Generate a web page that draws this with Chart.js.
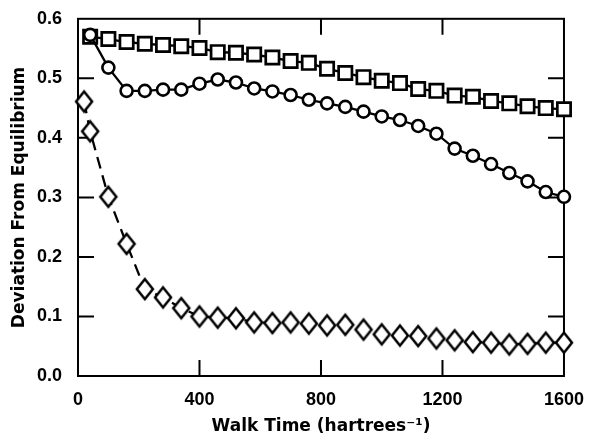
<!DOCTYPE html>
<html>
<head>
<meta charset="utf-8">
<script src="https://cdn.jsdelivr.net/npm/chart.js@4"></script>
<style>
    body { margin: 0; background: #fff; }
    #wrap { width: 589px; height: 438px; position: relative; }
</style>
</head>
<body>
<div id="wrap"><canvas id="grafica"></canvas></div>
<script>
// Datos
const walkTimes = [40, 100, 160, 220, 280, 340, 400, 460, 520, 580, 640, 700, 760, 820, 880,
    940, 1000, 1060, 1120, 1180, 1240, 1300, 1360, 1420, 1480, 1540, 1600];
const squareDev = [0.570, 0.566, 0.561, 0.558, 0.556, 0.554, 0.551, 0.544, 0.543, 0.540, 0.535,
    0.529, 0.526, 0.516, 0.509, 0.502, 0.496, 0.492, 0.482, 0.479, 0.471, 0.469, 0.462, 0.458,
    0.453, 0.450, 0.448];
const circleDev = [0.573, 0.518, 0.479, 0.479, 0.481, 0.481, 0.491, 0.498, 0.493, 0.483, 0.478,
    0.472, 0.464, 0.458, 0.452, 0.444, 0.436, 0.430, 0.420, 0.407, 0.382, 0.370, 0.356, 0.341,
    0.327, 0.309, 0.301];
const diamondTimes = [20, 40, 100, 160, 220, 280, 340, 400, 460, 520, 580, 640, 700, 760, 820,
    880, 940, 1000, 1060, 1120, 1180, 1240, 1300, 1360, 1420, 1480, 1540, 1600];
const diamondDev = [0.461, 0.411, 0.301, 0.222, 0.146, 0.132, 0.114, 0.100, 0.098, 0.097, 0.090,
    0.089, 0.090, 0.088, 0.085, 0.086, 0.078, 0.070, 0.068, 0.067, 0.063, 0.060, 0.057, 0.056,
    0.053, 0.054, 0.056, 0.056];
const xTickStep = 400;
const yTickStep = 0.1;

const toPoints = (xs, ys) => xs.map((x, i) => ({ x: x, y: ys[i] }));

// Rombo alto como marcador
function makeDiamond(w, h, lw) {
    const c = document.createElement('canvas');
    c.width = w + 8;
    c.height = h + 10;
    const g = c.getContext('2d');
    const cx = c.width / 2, cy = c.height / 2;
    g.beginPath();
    g.moveTo(cx, cy - h / 2);
    g.lineTo(cx + w / 2, cy);
    g.lineTo(cx, cy + h / 2);
    g.lineTo(cx - w / 2, cy);
    g.closePath();
    g.fillStyle = '#fff';
    g.fill();
    g.lineWidth = lw;
    g.strokeStyle = '#000';
    g.stroke();
    return c;
}

// Marco y marcas hacia adentro
const frameTicks = {
    id: 'frameTicks',
    beforeDatasetsDraw(chart) {
        const { ctx, chartArea: a, scales: { x, y } } = chart;
        const len = 16;
        ctx.save();
        ctx.strokeStyle = '#000';
        ctx.lineWidth = 2;
        ctx.strokeRect(a.left, a.top, a.right - a.left, a.bottom - a.top);
        ctx.beginPath();
        x.ticks.forEach(t => {
            if (t.value <= x.min || t.value >= x.max) return;
            const px = x.getPixelForValue(t.value);
            ctx.moveTo(px, a.bottom); ctx.lineTo(px, a.bottom - len);
            ctx.moveTo(px, a.top); ctx.lineTo(px, a.top + len);
        });
        y.ticks.forEach(t => {
            if (t.value <= y.min + 1e-9 || t.value >= y.max - 1e-9) return;
            const py = y.getPixelForValue(t.value);
            ctx.moveTo(a.left, py); ctx.lineTo(a.left + len, py);
            ctx.moveTo(a.right, py); ctx.lineTo(a.right - len, py);
        });
        ctx.stroke();
        ctx.restore();
    }
};

const tickFont = { family: 'Liberation Sans, Arial, sans-serif', size: 18, weight: 'bold' };
const titleFont = { family: 'DejaVu Sans, sans-serif', size: 17, weight: 'bold' };

new Chart(document.getElementById('grafica'), {
    type: 'line',
    data: {
        datasets: [
            {
                data: toPoints(walkTimes, circleDev),
                borderColor: '#000', borderWidth: 2.3,
                pointStyle: 'circle', pointRadius: 6, pointBorderWidth: 2.6,
                pointBackgroundColor: '#fff', pointBorderColor: '#000',
                clip: false
            },
            {
                data: toPoints(walkTimes, squareDev),
                borderColor: '#000', borderWidth: 2.3,
                pointStyle: 'rect', pointRadius: 9.4, pointBorderWidth: 2.7,
                pointBackgroundColor: '#fff', pointBorderColor: '#000',
                clip: false
            },
            {
                data: toPoints(diamondTimes, diamondDev),
                borderColor: '#000', borderWidth: 2.3, borderDash: [12, 7],
                pointStyle: makeDiamond(16, 20, 2.5), pointRadius: 10,
                clip: false
            }
        ]
    },
    options: {
        responsive: true,
        maintainAspectRatio: false,
        animation: false,
        events: [],
        layout: { padding: { top: 18, right: 23, left: 0, bottom: 0 } },
        plugins: { legend: { display: false }, tooltip: { enabled: false } },
        scales: {
            x: {
                type: 'linear', min: 0, max: 1600,
                afterFit: s => { s.height = 62; },
                grid: { display: false },
                border: { display: false },
                ticks: { stepSize: xTickStep, color: '#000', font: tickFont, padding: 5, maxRotation: 0,
                    callback: v => String(v) },
                title: { display: true, text: 'Walk Time (hartrees⁻¹)', color: '#000', font: titleFont,
                    padding: { top: 0, bottom: 1 } }
            },
            y: {
                min: 0, max: 0.6,
                afterFit: s => { s.width = 78; },
                grid: { display: false },
                border: { display: false },
                ticks: { stepSize: yTickStep, color: '#000', font: tickFont, padding: 8,
                    callback: v => v.toFixed(1) },
                title: { display: true, text: 'Deviation From Equilibrium', color: '#000', font: titleFont,
                    padding: { top: 9, bottom: 0 } }
            }
        }
    },
    plugins: [frameTicks]
});
</script>
</body>
</html>
